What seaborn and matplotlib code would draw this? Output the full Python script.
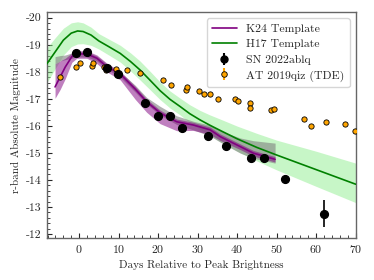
import numpy as np
import pandas as pd
import matplotlib
matplotlib.use("Agg")
import matplotlib.pyplot as plt
import seaborn as sns
from matplotlib.lines import Line2D

# ---------------- data ----------------
# SN 2022ablq
sn_days = [-0.9, 1.95, 7.0, 9.95, 16.7, 19.9, 22.9, 26.0, 32.7, 37.2, 43.5, 46.9, 52.0, 61.9]
sn_mag = [-18.68, -18.72, -18.15, -17.93, -16.86, -16.38, -16.35, -15.92, -15.64, -15.26, -14.82, -14.80, -14.02, -12.75]
sn_err = [0.05, 0.05, 0.05, 0.05, 0.05, 0.05, 0.05, 0.05, 0.05, 0.05, 0.05, 0.05, 0.05, 0.49]

# AT 2019qiz (TDE)
tde_days = [-4.81, -0.84, 0.33, 3.29, 3.42, 6.38, 6.89, 9.29, 12.23, 15.37, 21.34, 23.29, 26.96,
            27.34, 30.46, 31.65, 33.24, 35.11, 39.42, 40.30, 43.22, 43.29, 48.6, 49.24, 57.04,
            58.81, 62.46, 67.29, 69.87]
tde_mag = [-17.81, -18.17, -18.31, -18.22, -18.31, -18.19, -18.08, -18.10, -18.05, -17.97, -17.69,
           -17.52, -17.32, -17.44, -17.30, -17.18, -17.19, -16.98, -16.98, -16.93, -16.83, -16.67,
           -16.59, -16.61, -16.27, -15.98, -16.15, -16.08, -15.82]

# H17 template
h17_days = [-8.2, -6, -4, -2, -0.4, 1, 3, 5, 7.5, 10.4, 13, 15.4, 18, 20.5, 23, 25.6, 28, 30.6,
            33, 35.7, 40, 45, 50, 60, 70]
h17_mag = [-18.29, -18.75, -19.17, -19.43, -19.51, -19.49, -19.36, -19.14, -18.93, -18.68, -18.38,
           -18.07, -17.68, -17.30, -16.98, -16.71, -16.45, -16.22, -16.03, -15.83, -15.52, -15.20,
           -14.92, -14.38, -13.84]
h17_hi = [-18.88, -19.27, -19.61, -19.81, -19.85, -19.81, -19.65, -19.41, -19.21, -18.98, -18.70,
          -18.40, -18.01, -17.62, -17.29, -17.02, -16.78, -16.57, -16.41, -16.25, -15.99, -15.72,
          -15.47, -15.06, -14.62]
h17_lo = [-17.59, -18.13, -18.62, -18.93, -19.03, -19.04, -18.98, -18.84, -18.62, -18.36, -18.03,
          -17.70, -17.33, -16.97, -16.66, -16.40, -16.12, -15.87, -15.65, -15.41, -15.06, -14.70,
          -14.37, -13.76, -13.16]

# K24 template
k24_days = [-6.1, -4.8, -3.5, -1.85, -0.6, 1.95, 4.5, 7.0, 10.4, 14.2, 17.1, 20.5, 24.7, 28.9,
            33.2, 35.7, 40.8, 44.1, 49.6]
k24_mag = [-17.44, -17.81, -18.18, -18.56, -18.66, -18.66, -18.50, -18.19, -17.92, -17.36, -16.89,
           -16.48, -16.15, -16.03, -15.85, -15.60, -15.23, -14.99, -14.76]
k24_hi = [-18.30, -18.40, -18.50, -18.70, -18.78, -18.78, -18.62, -18.32, -18.02, -17.46, -16.99,
          -16.58, -16.25, -16.13, -15.95, -15.70, -15.33, -15.09, -14.86]
k24_lo = [-17.02, -17.35, -17.75, -18.35, -18.50, -18.50, -18.30, -18.00, -17.70, -16.98, -16.50,
          -16.08, -15.82, -15.83, -15.68, -15.46, -15.12, -14.88, -14.66]

# grey template envelope
gr_hi = [-18.56, -18.60, -18.62, -18.70, -18.75, -18.75, -18.58, -18.30, -18.00, -17.50, -17.05,
         -16.72, -16.37, -16.17, -16.02, -15.82, -15.55, -15.45, -15.36]
gr_lo = [-18.30, -18.40, -18.45, -18.50, -18.55, -18.55, -18.40, -18.10, -17.80, -17.25, -16.80,
         -16.40, -16.05, -15.85, -15.62, -15.40, -14.99, -14.80, -14.62]

# ---------------- style ----------------
sns.set_style("ticks")
plt.rcParams["font.family"] = ["cmr10", "DejaVu Serif"]
plt.rcParams["axes.unicode_minus"] = False
plt.rcParams["axes.formatter.use_mathtext"] = True
plt.rcParams["mathtext.fontset"] = "cm"

fig = plt.figure(figsize=(3.74, 2.80), dpi=100)
ax = fig.add_axes([0.125, 0.150, 0.826, 0.806])

h17 = pd.DataFrame({"day": h17_days, "mag": h17_mag})
k24 = pd.DataFrame({"day": k24_days, "mag": k24_mag})

ax.fill_between(h17_days, h17_hi, h17_lo, color="lightgreen", alpha=0.5, lw=0, zorder=1)
ax.fill_between(k24_days, gr_hi, gr_lo, color="gray", alpha=0.6, lw=0, zorder=2)
ax.fill_between(k24_days, k24_hi, k24_lo, color="purple", alpha=0.5, lw=0, zorder=2)
sns.lineplot(data=h17, x="day", y="mag", color="green", lw=1.2, ax=ax, zorder=3)
sns.lineplot(data=k24, x="day", y="mag", color="purple", lw=1.2, ax=ax, zorder=3)

ax.errorbar(tde_days, tde_mag, yerr=0.03, fmt="o", color="orange", mec="black", mew=0.6,
            ms=3.8, elinewidth=1, zorder=4)
ax.errorbar(sn_days, sn_mag, yerr=sn_err, fmt="o", color="black", ms=5.6, elinewidth=1.2, zorder=5)

ax.set_xlim(-8.2, 70)
ax.set_ylim(-11.85, -20.2)
ax.set_xticks([0, 10, 20, 30, 40, 50, 60, 70])
ax.set_yticks([-20, -19, -18, -17, -16, -15, -14, -13, -12])
ax.set_yticklabels(["-20", "-19", "-18", "-17", "-16", "-15", "-14", "-13", "-12"])
ax.xaxis.set_minor_locator(matplotlib.ticker.AutoMinorLocator(5))
ax.yaxis.set_minor_locator(matplotlib.ticker.AutoMinorLocator(5))
ax.tick_params(which="both", direction="in", top=False, right=False, labelsize=8.5)
ax.tick_params(which="major", length=3.5, width=0.8)
ax.tick_params(which="minor", length=2, width=0.6)
for s in ax.spines.values():
    s.set_color("#666666")
    s.set_linewidth(1.0)
ax.set_xlabel("Days Relative to Peak Brightness", fontsize=8)
ax.set_ylabel("r-band Absolute Magnitude", fontsize=8)

handles = [
    Line2D([], [], color="purple", lw=1.2),
    Line2D([], [], color="green", lw=1.2),
    ax.errorbar([], [], yerr=[], fmt="o", color="black", ms=5),
    ax.errorbar([], [], yerr=[], fmt="o", color="orange", mec="black", mew=0.6, ms=4),
]
ax.legend(handles, ["K24 Template", "H17 Template", "SN 2022ablq", "AT 2019qiz (TDE)"],
          loc="upper right", fontsize=8.5, frameon=True, handlelength=2.1,
          borderpad=0.45, labelspacing=0.45)

fig.savefig("out.png", dpi=100)
